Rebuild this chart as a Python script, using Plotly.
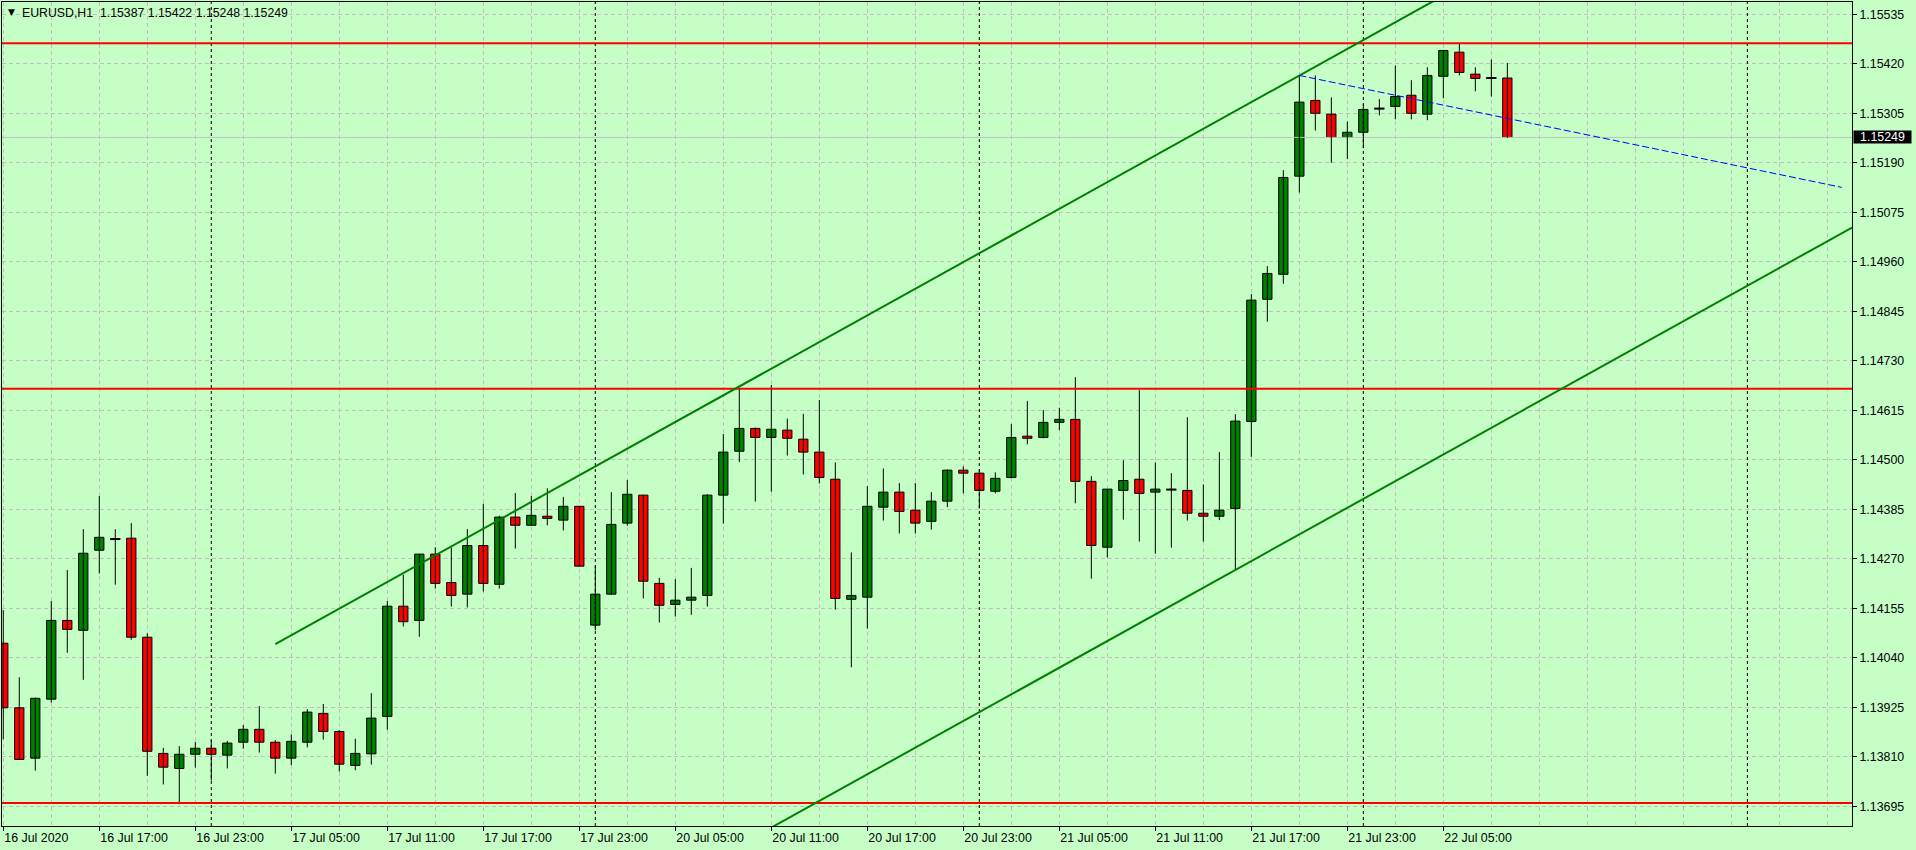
import plotly.graph_objects as go

# ---------------- data ----------------
bar_idx = list(range(95))
opens = [1.14074, 1.13924, 1.13807, 1.13944, 1.14127, 1.14104, 1.14290, 1.14316, 1.14318, 1.14088,
         1.13818, 1.13783, 1.13816, 1.13830, 1.13814, 1.13844, 1.13874, 1.13844, 1.13807, 1.13844,
         1.13911, 1.13869, 1.13790, 1.13817, 1.13904, 1.14160, 1.14127, 1.14281, 1.14215, 1.14188,
         1.14301, 1.14211, 1.14367, 1.14348, 1.14369, 1.14360, 1.14392, 1.14116, 1.14188, 1.14353,
         1.14418, 1.14213, 1.14164, 1.14174, 1.14185, 1.14418, 1.14520, 1.14573, 1.14552, 1.14569,
         1.14548, 1.14518, 1.14455, 1.14176, 1.14181, 1.14390, 1.14425, 1.14383, 1.14357, 1.14404,
         1.14476, 1.14469, 1.14427, 1.14459, 1.14555, 1.14552, 1.14587, 1.14594, 1.14450, 1.14297,
         1.14429, 1.14455, 1.14425, 1.14431, 1.14429, 1.14376, 1.14369, 1.14387, 1.14589, 1.14873,
         1.14931, 1.15159, 1.15335, 1.15303, 1.15249, 1.15261, 1.15316, 1.15321, 1.15347, 1.15303,
         1.15391, 1.15447, 1.15396, 1.15387, 1.15387]
highs = [1.14151, 1.13995, 1.13948, 1.14172, 1.14244, 1.14339, 1.14416, 1.14339, 1.14353, 1.14097,
         1.13831, 1.13835, 1.13845, 1.13849, 1.13847, 1.13884, 1.13928, 1.13849, 1.13862, 1.13921,
         1.13933, 1.13872, 1.13852, 1.13958, 1.14172, 1.14233, 1.14281, 1.14297, 1.14297, 1.14339,
         1.14398, 1.14370, 1.14423, 1.14416, 1.14434, 1.14414, 1.14393, 1.14253, 1.14425, 1.14453,
         1.14418, 1.14226, 1.14223, 1.14249, 1.14420, 1.14560, 1.14667, 1.14575, 1.14674, 1.14596,
         1.14607, 1.14639, 1.14494, 1.14285, 1.14439, 1.14480, 1.14446, 1.14446, 1.14425, 1.14478,
         1.14485, 1.14478, 1.14471, 1.14583, 1.14637, 1.14616, 1.14621, 1.14692, 1.14462, 1.14432,
         1.14499, 1.14662, 1.14494, 1.14469, 1.14599, 1.14443, 1.14518, 1.14606, 1.14885, 1.14950,
         1.15173, 1.15393, 1.15393, 1.15342, 1.15286, 1.15326, 1.15338, 1.15416, 1.15382, 1.15412,
         1.15452, 1.15466, 1.15412, 1.15430, 1.15422]
lows = [1.13851, 1.13804, 1.13778, 1.13936, 1.14052, 1.13989, 1.14236, 1.14210, 1.14082, 1.13766,
        1.13746, 1.13700, 1.13785, 1.13755, 1.13783, 1.13829, 1.13820, 1.13771, 1.13791, 1.13832,
        1.13850, 1.13776, 1.13779, 1.13792, 1.13873, 1.14113, 1.14089, 1.14201, 1.14159, 1.14157,
        1.14194, 1.14201, 1.14294, 1.14348, 1.14348, 1.14336, 1.14252, 1.14104, 1.14187, 1.14347,
        1.14178, 1.14122, 1.14136, 1.14140, 1.14159, 1.14352, 1.14495, 1.14403, 1.14426, 1.14510,
        1.14466, 1.14445, 1.14152, 1.14018, 1.14108, 1.14359, 1.14329, 1.14329, 1.14338, 1.14390,
        1.14422, 1.14387, 1.14422, 1.14457, 1.14536, 1.14550, 1.14569, 1.14399, 1.14224, 1.14273,
        1.14361, 1.14310, 1.14282, 1.14296, 1.14359, 1.14310, 1.14360, 1.14245, 1.14507, 1.14821,
        1.14909, 1.15121, 1.15265, 1.15190, 1.15199, 1.15224, 1.15300, 1.15291, 1.15291, 1.15289,
        1.15340, 1.15393, 1.15356, 1.15344, 1.15248]
closes = [1.13924, 1.13804, 1.13946, 1.14127, 1.14106, 1.14283, 1.14320, 1.14316, 1.14088, 1.13823,
          1.13786, 1.13816, 1.13830, 1.13816, 1.13842, 1.13874, 1.13844, 1.13807, 1.13846, 1.13914,
          1.13869, 1.13793, 1.13818, 1.13900, 1.14160, 1.14124, 1.14281, 1.14213, 1.14185, 1.14301,
          1.14213, 1.14367, 1.14348, 1.14371, 1.14364, 1.14392, 1.14253, 1.14188, 1.14350, 1.14420,
          1.14218, 1.14162, 1.14174, 1.14181, 1.14418, 1.14518, 1.14573, 1.14552, 1.14571, 1.14550,
          1.14518, 1.14459, 1.14178, 1.14185, 1.14392, 1.14425, 1.14380, 1.14353, 1.14404, 1.14476,
          1.14469, 1.14429, 1.14457, 1.14552, 1.14550, 1.14587, 1.14594, 1.14450, 1.14301, 1.14432,
          1.14452, 1.14422, 1.14432, 1.14431, 1.14376, 1.14369, 1.14383, 1.14590, 1.14871, 1.14933,
          1.15156, 1.15331, 1.15305, 1.15249, 1.15261, 1.15314, 1.15316, 1.15344, 1.15305, 1.15393,
          1.15451, 1.15400, 1.15386, 1.15387, 1.15249]

x_label_idx = [0, 6, 12, 18, 24, 30, 36, 42, 48, 54, 60, 66, 72, 78, 84, 90]
x_labels = ["16 Jul 2020", "16 Jul 17:00", "16 Jul 23:00", "17 Jul 05:00", "17 Jul 11:00",
            "17 Jul 17:00", "17 Jul 23:00", "20 Jul 05:00", "20 Jul 11:00", "20 Jul 17:00",
            "20 Jul 23:00", "21 Jul 05:00", "21 Jul 11:00", "21 Jul 17:00", "21 Jul 23:00",
            "22 Jul 05:00"]
x_grid_idx = list(range(0, 116, 3))
y_ticks = [1.13695, 1.13810, 1.13925, 1.14040, 1.14155, 1.14270, 1.14385, 1.14500, 1.14615,
           1.14730, 1.14845, 1.14960, 1.15075, 1.15190, 1.15305, 1.15420, 1.15535]
day_separator_idx = [13, 37, 61, 85, 109]
red_levels = [1.15468, 1.14665, 1.13703]
channel_x = [17, 116]
channel_upper = [1.14072, 1.16115]
channel_lower = [1.13006, 1.15049]
blue_x = [81, 114.9]
blue_y = [1.15393, 1.15133]
x_range = [-0.08, 115.54]
y_range = [1.136494, 1.155636]
header = "EURUSD,H1\u00a0\u00a01.15387 1.15422 1.15248 1.15249"
last_price = closes[-1]

BG = "#C6FFC6"
GRID = "#C0C0C0"
FONT = "Liberation Sans"
TICK_SIZE = 12.4

# ---------------- figure ----------------
fig = go.Figure()

# day separators (drawn behind candles)
sx, sy = [], []
for s in day_separator_idx:
    sx += [s, s, None]
    sy += [y_range[0], y_range[1], None]
fig.add_trace(go.Scatter(x=sx, y=sy, mode="lines",
                         line=dict(color="black", width=1, dash="3px,3px"),
                         hoverinfo="skip", showlegend=False))
# bid line
fig.add_trace(go.Scatter(x=x_range, y=[last_price, last_price], mode="lines",
                         line=dict(color="#C0C0C0", width=1),
                         hoverinfo="skip", showlegend=False))

# wicks
wx, wy = [], []
for i, h, l in zip(bar_idx, highs, lows):
    wx += [i, i, None]
    wy += [l, h, None]
fig.add_trace(go.Scatter(x=wx, y=wy, mode="lines", line=dict(color="black", width=1),
                         hoverinfo="skip", showlegend=False))

# bodies
colors = ["#008000" if c > o else "#FF0000" for o, c in zip(opens, closes)]
fig.add_trace(go.Bar(x=bar_idx, y=[c - o for o, c in zip(opens, closes)], base=opens,
                     width=0.58, marker=dict(color=colors, line=dict(color="black", width=1)),
                     hoverinfo="skip", showlegend=False))

# doji bodies
dx, dy = [], []
for i, o, c in zip(bar_idx, opens, closes):
    if o == c:
        dx += [i - 0.32, i + 0.32, None]
        dy += [o, o, None]
fig.add_trace(go.Scatter(x=dx, y=dy, mode="lines", line=dict(color="black", width=2),
                         hoverinfo="skip", showlegend=False))

# red horizontal levels
for lv in red_levels:
    fig.add_trace(go.Scatter(x=x_range, y=[lv, lv], mode="lines",
                             line=dict(color="#FF0000", width=2),
                             hoverinfo="skip", showlegend=False))

# channel lines
for yy in (channel_upper, channel_lower):
    fig.add_trace(go.Scatter(x=channel_x, y=yy, mode="lines",
                             line=dict(color="#008000", width=2),
                             hoverinfo="skip", showlegend=False))
# blue dashed trend line
fig.add_trace(go.Scatter(x=blue_x, y=blue_y, mode="lines",
                         line=dict(color="#0000FF", width=1, dash="7px,3px"),
                         hoverinfo="skip", showlegend=False))

annotations = [
    dict(xref="paper", yref="paper", x=0, y=1, xanchor="left", yanchor="top", xshift=4, yshift=-3,
         text="▼", showarrow=False, font=dict(family="DejaVu Sans", size=9, color="black")),
    dict(xref="paper", yref="paper", x=0, y=1, xanchor="left", yanchor="top", xshift=18, yshift=-2,
         text=header, showarrow=False, font=dict(family=FONT, size=12.3, color="black")),
    dict(xref="paper", yref="y", x=1, y=last_price, xanchor="left", yanchor="middle", xshift=1,
         text=f"{last_price:.5f}", showarrow=False, bgcolor="black", borderpad=0,
         width=57, height=12, font=dict(family=FONT, size=TICK_SIZE, color="white")),
]

fig.update_layout(
    width=1916, height=850,
    margin=dict(l=2, r=64, t=2, b=24),
    paper_bgcolor=BG, plot_bgcolor=BG,
    showlegend=False, hovermode=False,
    annotations=annotations,
    font=dict(family=FONT, size=TICK_SIZE, color="black"),
    xaxis=dict(range=x_range, tickmode="array", tickvals=x_label_idx, ticktext=x_labels,
               ticks="outside", ticklen=4, tickcolor="black", ticklabelposition="outside right",
               showgrid=True, gridcolor=GRID, griddash="4px,3px", gridwidth=1,
               minor=dict(tickmode="array", tickvals=x_grid_idx, showgrid=True, gridcolor=GRID,
                          griddash="4px,3px", gridwidth=1, ticks=""),
               showline=True, linecolor="black", linewidth=1, mirror=True, zeroline=False,
               tickfont=dict(family=FONT, size=TICK_SIZE, color="black")),
    yaxis=dict(range=y_range, side="right", tickmode="array", tickvals=y_ticks,
               tickformat=".5f", ticks="outside", ticklen=4, tickcolor="black",
               showgrid=True, gridcolor=GRID, griddash="4px,3px", gridwidth=1,
               showline=True, linecolor="black", linewidth=1, mirror=True, zeroline=False,
               tickfont=dict(family=FONT, size=TICK_SIZE, color="black")),
)

fig.write_html("out.html", config={"displayModeBar": False},
               post_script="document.body.style.margin='0';document.body.style.overflow='hidden';")
